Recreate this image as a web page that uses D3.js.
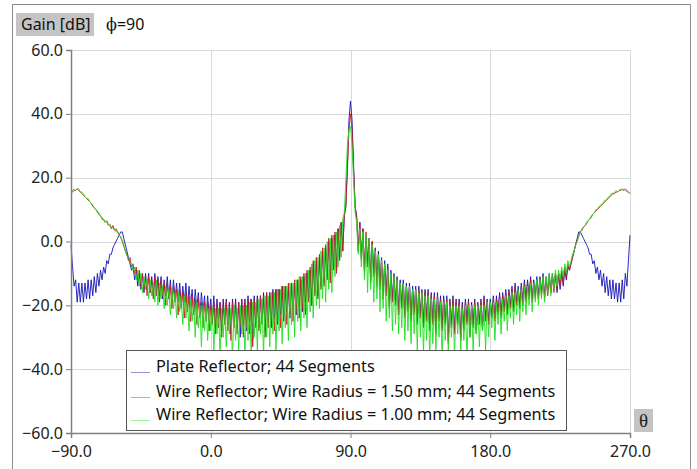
<!DOCTYPE html>
<html>
<head>
<meta charset="utf-8">
<script src="https://cdn.jsdelivr.net/npm/d3@7"></script>
<style>
  body { margin: 0; background: #fff; }
  svg { display: block; font-family: "Noto Sans", "Open Sans", sans-serif; }
</style>
</head>
<body>
<svg width="697" height="469"></svg>
<script>
// theta runs from -90 to 270 in 1 degree steps (361 samples per series)
var thetaStart = -90, thetaEnd = 270;
var xTicks = [-90, 0, 90, 180, 270];
var yTicks = [-60, -40, -20, 0, 20, 40, 60];

var plateGain = [
  -1, -8, -14, -12, -19, -13, -19, -13, -19, -13,
  -18, -12, -18, -12, -17, -11, -16, -10, -14, -9,
  -12, -8, -10, -6, -7, -4, -4, -2, -1, 0,
  1, 2, 3, 3, 1, -1, -3, -5, -7, -9,
  -8, -12, -9, -14, -10, -15, -10, -16, -10, -15,
  -10, -16, -11, -17, -10, -16, -11, -17, -11, -18,
  -12, -17, -11, -18, -12, -19, -12, -18, -13, -19,
  -13, -20, -14, -19, -13, -21, -14, -20, -15, -22,
  -15, -21, -16, -23, -16, -22, -17, -24, -17, -23,
  -18, -25, -17, -27, -18, -24, -19, -28, -18, -25,
  -18, -26, -19, -29, -18, -25, -18, -27, -19, -30,
  -18, -26, -18, -28, -17, -25, -18, -31, -17, -26,
  -17, -27, -17, -24, -16, -28, -16, -25, -16, -27,
  -15, -24, -15, -26, -15, -23, -14, -25, -14, -22,
  -14, -24, -13, -21, -13, -23, -12, -20, -12, -22,
  -11, -19, -10, -18, -9, -20, -7, -16, -6, -17,
  -5, -14, -3, -13, -2, -11, 0, -12, 1, -8,
  2, -9, 4, -5, 6, -3, 8, 11, 24, 38,
  44,
  38, 24, 11, 8, -3, 6, -5, 4, -9, 2,
  -7, 1, -12, 0, -10, -2, -13, -3, -14, -5,
  -17, -6, -16, -7, -20, -9, -18, -10, -19, -11,
  -22, -12, -20, -12, -23, -13, -21, -13, -24, -14,
  -22, -14, -25, -14, -23, -15, -26, -15, -24, -15,
  -27, -16, -25, -16, -28, -16, -24, -17, -27, -17,
  -25, -17, -31, -18, -26, -17, -28, -18, -25, -18,
  -30, -19, -27, -18, -25, -18, -29, -19, -26, -18,
  -28, -19, -25, -18, -27, -17, -24, -18, -25, -18,
  -23, -17, -24, -17, -22, -16, -23, -16, -21, -15,
  -22, -15, -20, -14, -21, -13, -19, -14, -20, -13,
  -19, -12, -18, -12, -17, -11, -18, -12, -17, -11,
  -17, -11, -16, -10, -17, -11, -16, -10, -16, -10,
  -15, -10, -16, -10, -15, -10, -14, -9, -12, -8,
  -9, -7, -5, -3, -1, 1, 3, 3, 2, 1,
  0, -1, -2, -4, -4, -7, -6, -10, -8, -12,
  -9, -14, -10, -16, -11, -17, -12, -18, -12, -18,
  -13, -19, -13, -19, -12, -18, -10, -14, -6, 2
];

var wire150Gain = [
  15.5, 15.5, 16, 16, 16.5, 16, 15.5, 15, 14.5, 14,
  13.5, 13, 12.5, 12, 11, 10.5, 10, 9.5, 8.5, 8,
  7, 7, 6, 6.5, 5.5, 5, 4, 5, 3.5, 4,
  3, 2, 1.5, 0, -1.5, -3, -4, -6, -5, -8,
  -7, -10, -8, -12, -9, -14, -10, -15, -11, -17,
  -11, -16, -12, -18, -11, -17, -12, -19, -12, -17,
  -13, -20, -13, -18, -14, -21, -14, -19, -15, -23,
  -15, -21, -16, -24, -16, -22, -17, -25, -17, -23,
  -18, -26, -18, -24, -19, -27, -19, -25, -19, -28,
  -20, -26, -19, -29, -20, -27, -19, -30, -20, -26,
  -19, -28, -20, -31, -19, -27, -20, -29, -19, -26,
  -19, -30, -19, -27, -18, -29, -18, -33, -18, -27,
  -18, -28, -17, -26, -17, -30, -16, -27, -16, -25,
  -16, -28, -15, -25, -15, -27, -14, -24, -14, -26,
  -13, -23, -13, -25, -12, -22, -12, -24, -11, -21,
  -10, -23, -9, -19, -8, -20, -6, -17, -5, -18,
  -4, -15, -2, -14, -1, -12, 1, -13, 2, -9,
  3, -10, 4, -6, 6, -3, 8, 11, 22, 35,
  40,
  35, 22, 11, 7, -3, 6, -6, 4, -10, 3,
  -8, 1, -13, 0, -11, -2, -14, -4, -15, -5,
  -18, -7, -17, -8, -21, -10, -19, -11, -20, -12,
  -23, -13, -21, -13, -24, -14, -22, -14, -25, -15,
  -23, -15, -26, -15, -24, -16, -27, -16, -25, -16,
  -28, -17, -26, -17, -29, -17, -25, -18, -28, -18,
  -26, -18, -32, -19, -27, -18, -29, -19, -26, -19,
  -31, -20, -28, -19, -26, -19, -30, -20, -27, -19,
  -29, -20, -26, -19, -28, -18, -25, -19, -26, -19,
  -24, -18, -25, -18, -23, -17, -24, -17, -22, -16,
  -23, -16, -21, -15, -22, -14, -20, -15, -21, -14,
  -20, -13, -19, -13, -18, -12, -19, -13, -18, -12,
  -18, -12, -17, -11, -18, -12, -17, -11, -16, -11,
  -16, -10, -15, -10, -14, -9, -13, -8, -11, -7,
  -9, -7, -5, -3, -1, 0.5, 2, 3, 3.5, 4.5,
  5, 5.5, 6.5, 7, 7.5, 8.5, 9, 9.5, 10, 10.5,
  11, 11.5, 12, 12.5, 13, 13.5, 14, 14.5, 15, 15,
  15.5, 15.5, 16, 16, 16.5, 16, 16.5, 16, 15.5, 15
];

var wire100Gain = [
  15, 16, 16.5, 16, 16.5, 16.5, 15.5, 15.5, 15, 14,
  13.5, 13.5, 12.5, 12, 11.5, 10.5, 10, 9, 9, 8,
  7.5, 6.5, 6.5, 6, 5, 5.5, 4.5, 4, 4, 3,
  3, 2.5, 1, 0.5, -1, -3, -4.5, -5, -6.5, -7,
  -9, -8, -12, -9, -14, -10, -16, -11, -15, -12,
  -18, -12, -17, -13, -19, -12, -20, -13, -18, -14,
  -21, -14, -20, -15, -23, -15, -21, -16, -24, -16,
  -22, -17, -26, -17, -24, -18, -28, -18, -25, -19,
  -30, -19, -27, -20, -33, -20, -28, -20, -31, -21,
  -28, -21, -34, -21, -29, -21, -36, -21, -30, -21,
  -33, -21, -29, -21, -37, -20, -31, -21, -34, -20,
  -29, -20, -36, -20, -31, -19, -35, -19, -30, -19,
  -34, -18, -29, -18, -36, -17, -30, -17, -33, -16,
  -29, -16, -34, -15, -28, -15, -32, -14, -27, -14,
  -31, -13, -26, -13, -30, -12, -25, -11, -28, -11,
  -24, -10, -27, -9, -22, -7, -24, -6, -20, -5,
  -21, -3, -18, -2, -19, 0, -15, 1, -16, 2,
  -11, 3, -8, 5, -5, 7, 9, 19, 30, 35,
  36,
  30, 19, 9, 6, -4, 4, -8, 3, -12, 2,
  -16, 1, -15, -1, -19, -3, -18, -4, -22, -6,
  -21, -7, -25, -9, -24, -10, -28, -11, -26, -12,
  -29, -13, -27, -13, -31, -14, -28, -14, -32, -15,
  -29, -15, -34, -16, -30, -16, -35, -17, -31, -17,
  -36, -18, -32, -18, -34, -18, -30, -19, -37, -19,
  -31, -19, -35, -20, -30, -20, -36, -20, -29, -20,
  -34, -21, -31, -20, -37, -20, -30, -20, -35, -20,
  -29, -20, -33, -20, -28, -20, -34, -19, -30, -19,
  -27, -19, -31, -19, -26, -18, -29, -18, -25, -17,
  -28, -17, -24, -16, -26, -16, -23, -15, -25, -15,
  -22, -14, -23, -14, -20, -13, -22, -13, -19, -12,
  -20, -12, -18, -11, -19, -11, -16, -10, -17, -10,
  -15, -9, -14, -9, -12, -8, -11, -7, -10, -6,
  -8, -6, -4, -3, -1, 0, 1.5, 3, 4, 4.5,
  5, 6, 6.5, 7, 8, 8.5, 9, 10, 10, 11,
  11.5, 11.5, 12.5, 13, 13, 14, 14, 15, 15, 15.5,
  16, 15.5, 16, 16.5, 16, 16.5, 16, 15.5, 15.5, 15
];

var seriesNames = [
  "Plate Reflector; 44 Segments",
  "Wire Reflector; Wire Radius = 1.50 mm; 44 Segments",
  "Wire Reflector; Wire Radius = 1.00 mm; 44 Segments"
];
var seriesColors = ["#1414b8", "#c81e1e", "#1ee01e"];
var seriesValues = [plateGain, wire150Gain, wire100Gain];

var svg = d3.select("svg");
var theta = d3.range(thetaStart, thetaEnd + 1);

var x = d3.scaleLinear().domain([-90, 270]).range([71, 630]);
var y = d3.scaleLinear().domain([-60, 60]).range([433, 50]);

// outer frame
svg.append("rect")
  .attr("x", 12.5).attr("y", 4.5)
  .attr("width", 678).attr("height", 480)
  .attr("fill", "none").attr("stroke", "#8c8c8c");

// grid
var grid = svg.append("g").attr("stroke", "#d9d9d9").attr("stroke-width", 1);
grid.selectAll(".gy").data(yTicks).enter().append("line")
  .attr("x1", x(-90)).attr("x2", x(270))
  .attr("y1", function(d) { return Math.round(y(d)) + 0.5; })
  .attr("y2", function(d) { return Math.round(y(d)) + 0.5; });
grid.selectAll(".gx").data(xTicks).enter().append("line")
  .attr("y1", y(60)).attr("y2", y(-60))
  .attr("x1", function(d) { return Math.round(x(d)) + 0.5; })
  .attr("x2", function(d) { return Math.round(x(d)) + 0.5; });

// series, green drawn last like the reference
var line = d3.line()
  .x(function(d, i) { return x(theta[i]); })
  .y(function(d) { return y(d); });

svg.append("g").selectAll("path")
  .data(seriesValues).enter().append("path")
  .attr("d", line)
  .attr("fill", "none")
  .attr("stroke", function(d, i) { return seriesColors[i]; })
  .attr("stroke-width", 1)
  .attr("stroke-opacity", 0.9);

// axes
var fmt = d3.format(".1f");
var yAxis = svg.append("g")
  .attr("transform", "translate(" + x(-90) + ",0)")
  .call(d3.axisLeft(y).tickValues(yTicks).tickFormat(fmt).tickSize(5).tickPadding(3));
var xAxis = svg.append("g")
  .attr("transform", "translate(0," + y(-60) + ")")
  .call(d3.axisBottom(x).tickValues(xTicks).tickFormat(fmt).tickSize(5).tickPadding(8));

[yAxis, xAxis].forEach(function(a) {
  a.select(".domain").attr("stroke", "#808080").attr("stroke-width", 1.5);
  a.selectAll(".tick line").attr("stroke", "#808080");
  a.selectAll(".tick text").attr("fill", "#222").style("font-size", "16px")
    .style("font-family", "'Noto Sans', sans-serif");
});

// legend
var legend = svg.append("g");
legend.append("rect")
  .attr("x", 126.5).attr("y", 350.5)
  .attr("width", 440).attr("height", 80)
  .attr("fill", "#fff").attr("stroke", "#555");
var rowY = [372, 397, 420];
seriesNames.forEach(function(name, i) {
  legend.append("line")
    .attr("x1", 131).attr("x2", 150)
    .attr("y1", rowY[i] + 0.5).attr("y2", rowY[i] + 0.5)
    .attr("stroke", seriesColors[i]).attr("stroke-opacity", 0.45);
  legend.append("text")
    .attr("x", 156).attr("y", rowY[i])
    .attr("fill", "#111").style("font-size", "16.3px")
    .text(name);
});

// axis title boxes
svg.append("rect").attr("x", 16).attr("y", 13).attr("width", 78).attr("height", 23)
  .attr("fill", "#c4c4c4");
svg.append("text").attr("x", 21).attr("y", 30)
  .attr("fill", "#111").style("font-size", "16px").text("Gain [dB]");
var phi = svg.append("text").attr("x", 106).attr("y", 30)
  .attr("fill", "#111").style("font-size", "16px");
phi.append("tspan").style("font-family", "'DejaVu Serif', serif").text("ϕ");
phi.append("tspan").text("=90");

svg.append("rect").attr("x", 634).attr("y", 409).attr("width", 19).attr("height", 23)
  .attr("fill", "#c4c4c4");
svg.append("text").attr("x", 643.5).attr("y", 427)
  .attr("text-anchor", "middle").attr("fill", "#222")
  .style("font-family", "'Liberation Serif', serif").style("font-size", "19px")
  .text("θ");
</script>
</body>
</html>
